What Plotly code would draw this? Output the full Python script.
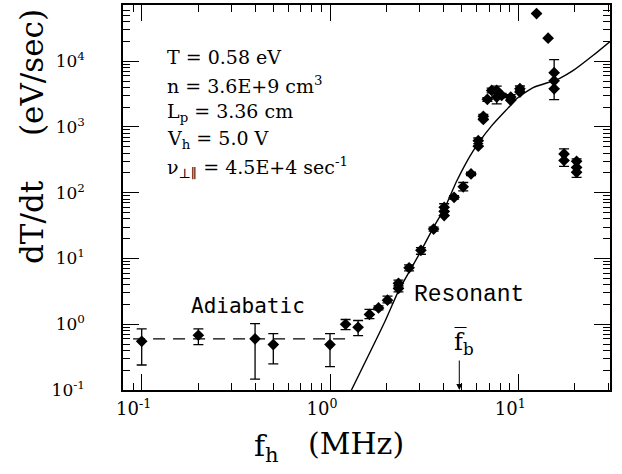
import math
import plotly.graph_objects as go

# ---------------- data ----------------
freq_mhz = [0.10, 0.20, 0.40, 0.50, 1.00, 1.21, 1.41, 1.62, 1.81, 2.02,
            2.31, 2.31, 2.63, 3.04, 3.55, 4.04, 4.04, 4.04, 4.56, 5.10,
            5.61, 6.13, 6.13, 6.52, 6.52, 6.85, 7.22, 7.68, 7.68, 8.16,
            9.12, 9.12, 10.2, 10.2, 12.5, 14.4, 15.5, 15.5, 15.5, 17.5,
            17.5, 20.4, 20.4, 20.4]
dTdt = [0.55, 0.68, 0.60, 0.49, 0.49, 1.00, 0.90, 1.41, 1.77, 2.32,
        4.2, 3.5, 7.2, 13.3, 28.0, 60.0, 52.0, 45.0, 85.0, 123.0,
        193.0, 620.0, 510.0, 1450.0, 1300.0, 2630.0, 3600.0, 3600.0, 2850.0, 3020.0,
        2850.0, 2540.0, 3820.0, 3390.0, 53000.0, 22400.0, 6700.0, 5030.0, 3800.0, 389.0,
        309.0, 300.0, 243.0, 204.0]
err_top = [0.85, 0.85, 1.02, 0.72, 0.72, 1.18, 1.14, 1.68, 1.90, 2.67,
           4.7, 3.7, 8.0, 14.6, 30.0, 68.0, None, None, 90.0, 143.0,
           205.0, 680.0, None, 1550.0, None, 2800.0, 3900.0, 4170.0, None, 3250.0,
           3100.0, None, 4200.0, None, None, None, None, 10600.0, None, 464.0,
           None, 327.0, None, None]
err_bottom = [0.24, 0.49, 0.146, 0.25, 0.226, 0.83, 0.67, 1.22, 1.65, 2.12,
              3.9, 3.1, 6.5, 11.6, 26.0, 53.0, None, None, 80.0, 107.0,
              182.0, 560.0, None, 1350.0, None, 2450.0, 3300.0, 2240.0, None, 2800.0,
              2650.0, None, 3550.0, None, None, None, None, 2600.0, None, 251.0,
              None, 171.0, None, None]

# resonant model curve
model_f = [1.30, 1.96, 2.31, 3.01, 3.54, 4.08, 4.71, 5.77, 7.23, 9.04,
           9.79, 12.0, 15.3, 16.6, 19.6, 25.0, 30.7]
model_y = [0.1, 1.11, 3.19, 12.3, 29.5, 59.7, 151, 437, 1047, 2090,
           2690, 3980, 5010, 5500, 7240, 12300, 19950]

# adiabatic level (dashed)
adiabatic_f = [0.09, 1.23]
adiabatic_y = [0.6, 0.6]

fb_mhz = 4.86

x_ticks = [0.1, 1, 10]
x_ticktext = ["10<sup>-1</sup>", "10<sup>0</sup>", "10<sup>1</sup>"]
y_ticks = [0.1, 1, 10, 100, 1000, 10000]
y_ticktext = ["10<sup>-1</sup>", "10<sup>0</sup>", "10<sup>1</sup>",
              "10<sup>2</sup>", "10<sup>3</sup>", "10<sup>4</sup>"]

info_lines = ["T = 0.58 eV",
              "n = 3.6E+9 cm<sup>3</sup>",
              "L<sub>p</sub> = 3.36 cm",
              "V<sub>h</sub> = 5.0 V",
              "\u03bd<sub>\u22a5\u2225</sub> = 4.5E+4 sec<sup>-1</sup>"]

# ---------------- figure ----------------
SERIF = "DejaVu Serif, DejaVu Sans, serif"
W, H = 622, 474
ML, MR, MT, MB = 123, 12, 5, 84
PW, PH = W - ML - MR, H - MT - MB


def px(xp):
    return (xp - ML) / PW


def py(yp):
    return (H - MB - yp) / PH


plus = [(t - v) if t is not None else None for t, v in zip(err_top, dTdt)]
minus = [(v - b) if b is not None else None for b, v in zip(err_bottom, dTdt)]

fig = go.Figure()
fig.add_trace(go.Scatter(x=adiabatic_f, y=adiabatic_y, mode="lines",
                         line=dict(color="black", width=1.3, dash="12px,8px"),
                         hoverinfo="skip"))
fig.add_trace(go.Scatter(x=model_f, y=model_y, mode="lines",
                         line=dict(color="black", width=1.4, shape="spline", smoothing=0.6),
                         hoverinfo="skip"))
fig.add_trace(go.Scatter(x=freq_mhz, y=dTdt, mode="markers",
                         marker=dict(symbol="diamond", size=9, color="black"),
                         error_y=dict(type="data", symmetric=False, array=plus,
                                      arrayminus=minus, color="black",
                                      thickness=1.3, width=5)))

minor_x = [k * 10 ** n for n in range(-2, 2) for k in range(2, 10)]
minor_y = [k * 10 ** n for n in range(-1, 5) for k in range(2, 10)]

axis_common = dict(type="log", showgrid=False, zeroline=False, automargin=False,
                   showline=True, linecolor="black", linewidth=1.5,
                   mirror="allticks", ticks="inside", ticklen=16,
                   tickwidth=1.3, tickcolor="black")

fig.update_xaxes(**axis_common, range=[-1.0993, 1.487], tickmode="array",
                 tickvals=x_ticks, ticktext=x_ticktext, ticklabelstandoff=2,
                 ticklabelshift=-8,
                 tickfont=dict(family=SERIF, size=18, color="black"),
                 minor=dict(tickmode="array", tickvals=minor_x, ticks="inside",
                            ticklen=7, tickwidth=1, tickcolor="black", showgrid=False))
fig.update_yaxes(**axis_common, range=[-1.0, 4.855], tickmode="array",
                 tickvals=y_ticks, ticktext=y_ticktext, ticklabelstandoff=33,
                 tickfont=dict(family=SERIF, size=17, color="black"),
                 minor=dict(tickmode="array", tickvals=minor_y, ticks="inside",
                            ticklen=7, tickwidth=1, tickcolor="black", showgrid=False))

ann = []
rows_y = [57, 84.5, 112, 139.5, 167]
for txt, yy in zip(info_lines, rows_y):
    ann.append(dict(x=px(165), y=py(yy), xref="paper", yref="paper", text=txt,
                    showarrow=False, xanchor="left", yanchor="middle",
                    font=dict(family=SERIF, size=19, color="black")))
ann.append(dict(x=px(248), y=py(306), xref="paper", yref="paper", text="Adiabatic",
                showarrow=False, xanchor="center", yanchor="middle",
                font=dict(family="DejaVu Sans Mono", size=21, color="black")))
ann.append(dict(x=px(412), y=py(295), xref="paper", yref="paper", text="Resonant",
                showarrow=False, xanchor="left", yanchor="middle",
                font=dict(family="Liberation Mono", size=23, color="black")))
ann.append(dict(x=px(464), y=py(343), xref="paper", yref="paper",
                text="f\u0305<sub>b</sub>", showarrow=False,
                xanchor="center", yanchor="middle",
                font=dict(family=SERIF, size=24, color="black")))
ann.append(dict(x=math.log10(fb_mhz), y=-1, xref="x", yref="y", text="",
                showarrow=True, ax=0, ay=-31, arrowhead=2, arrowsize=1.2,
                arrowwidth=1, arrowcolor="black"))
ann.append(dict(x=px(266), y=py(447), xref="paper", yref="paper",
                text="f<sub>h</sub>", showarrow=False, xanchor="center", yanchor="middle",
                font=dict(family=SERIF, size=30, color="black")))
ann.append(dict(x=px(356), y=py(443), xref="paper", yref="paper",
                text="(MHz)", showarrow=False, xanchor="center", yanchor="middle",
                font=dict(family=SERIF, size=30, color="black")))
ann.append(dict(x=px(32), y=py(222), xref="paper", yref="paper",
                text="dT/dt", showarrow=False, textangle=-90,
                xanchor="center", yanchor="middle",
                font=dict(family=SERIF, size=31, color="black")))
ann.append(dict(x=px(32), y=py(73), xref="paper", yref="paper",
                text="(eV/sec)", showarrow=False, textangle=-90,
                xanchor="center", yanchor="middle",
                font=dict(family=SERIF, size=31, color="black")))

fig.update_layout(width=W, height=H, margin=dict(l=ML, r=MR, t=MT, b=MB),
                  paper_bgcolor="white", plot_bgcolor="white",
                  showlegend=False, annotations=ann)

fig.write_html("out.html", config={"displayModeBar": False},
               post_script="document.body.style.margin='0';"
                           "document.body.style.padding='0';")
